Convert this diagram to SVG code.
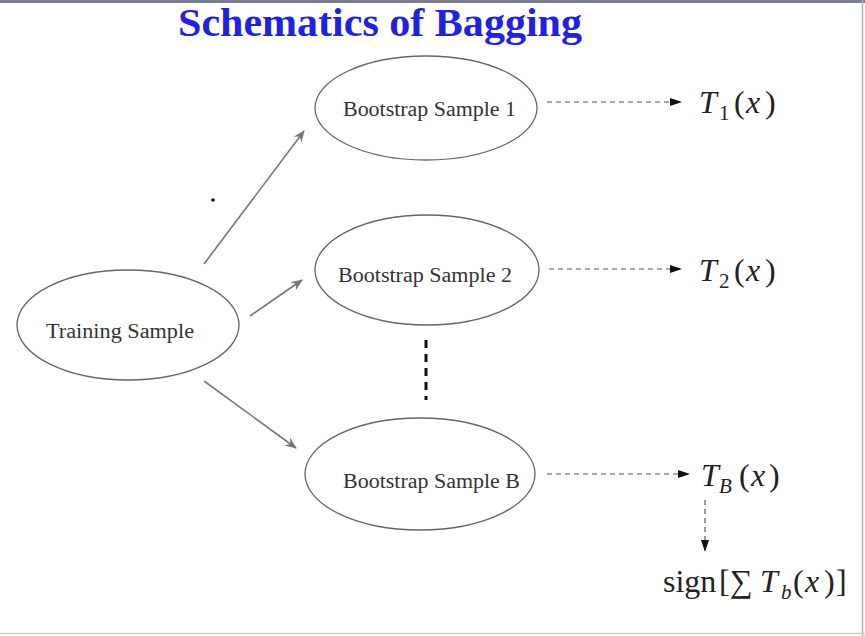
<svg xmlns="http://www.w3.org/2000/svg" width="865" height="636" viewBox="0 0 865 636">
<style>
.node ellipse{fill:#fff;stroke:#666;stroke-width:1.3}
.lbl{font-family:"Liberation Serif",serif;font-size:20px;fill:#333}
.math{font-family:"Liberation Serif",serif;font-size:32px;fill:#222}
.sub{font-size:21px}
.it{font-style:italic}
.solid{stroke:#777;stroke-width:1.6;fill:none}
.dash{stroke:#555;stroke-width:1.2;stroke-dasharray:5 4;fill:none}
</style>
<defs>
<marker id="open" viewBox="0 0 12 10" refX="11" refY="5" markerWidth="12" markerHeight="10" markerUnits="userSpaceOnUse" orient="auto">
<path d="M0,0 L12,5 L0,10 L4,5 Z" fill="#777"/>
</marker>
<marker id="fill" viewBox="0 0 12 8" refX="12" refY="4" markerWidth="12" markerHeight="8" markerUnits="userSpaceOnUse" orient="auto">
<path d="M0,0 L12,4 L0,8 Z" fill="#111"/>
</marker>
</defs>
<rect x="0" y="0" width="865" height="636" fill="#fff"/>
<rect x="0" y="0" width="865" height="3" fill="#7a7f8c"/>
<line x1="862.5" y1="0" x2="862.5" y2="636" stroke="#a9b0c2" stroke-width="1.5"/>
<line x1="0" y1="633.5" x2="865" y2="633.5" stroke="#c9ccd6" stroke-width="1.5"/>
<text x="178" y="36" font-family="Liberation Serif,serif" font-weight="bold" font-size="39" fill="#2121e0" textLength="404" lengthAdjust="spacingAndGlyphs">Schematics of Bagging</text>
<g id="connectors">
<line class="solid" x1="204" y1="264" x2="304" y2="131" marker-end="url(#open)"/>
<line class="solid" x1="250" y1="316" x2="302" y2="280" marker-end="url(#open)"/>
<line class="solid" x1="204" y1="381" x2="296" y2="448" marker-end="url(#open)"/>
<line class="dash" x1="547" y1="102" x2="682" y2="102" marker-end="url(#fill)"/>
<line class="dash" x1="549" y1="269" x2="682" y2="269" marker-end="url(#fill)"/>
<line class="dash" x1="547" y1="474" x2="690" y2="474" marker-end="url(#fill)"/>
<line class="dash" x1="705" y1="500" x2="705" y2="552" marker-end="url(#fill)"/>
<line x1="426" y1="340" x2="426" y2="400" stroke="#111" stroke-width="3" stroke-dasharray="8 6"/>
<circle cx="213" cy="200" r="1.8" fill="#111"/>
</g>
<g id="training" class="node"><ellipse cx="128" cy="325" rx="111" ry="55"/><text class="lbl" x="46" y="338" textLength="148" lengthAdjust="spacingAndGlyphs">Training Sample</text></g>
<g id="bs1" class="node"><ellipse cx="426" cy="108" rx="111" ry="52"/><text class="lbl" x="343" y="116" textLength="173" lengthAdjust="spacingAndGlyphs">Bootstrap Sample 1</text></g>
<g id="bs2" class="node"><ellipse cx="427" cy="270" rx="112" ry="55"/><text class="lbl" x="338" y="282" textLength="174" lengthAdjust="spacingAndGlyphs">Bootstrap Sample 2</text></g>
<g id="bsB" class="node"><ellipse cx="420" cy="474" rx="115" ry="56"/><text class="lbl" x="343" y="488" textLength="177" lengthAdjust="spacingAndGlyphs">Bootstrap Sample B</text></g>
<g id="t1"><text class="math" y="113"><tspan class="it" x="699">T</tspan><tspan class="sub" x="719" y="120">1</tspan><tspan x="734" y="113">(</tspan><tspan class="it" x="746">x</tspan><tspan x="765">)</tspan></text></g>
<g id="t2"><text class="math" y="281"><tspan class="it" x="699">T</tspan><tspan class="sub" x="719" y="288">2</tspan><tspan x="734" y="281">(</tspan><tspan class="it" x="746">x</tspan><tspan x="765">)</tspan></text></g>
<g id="tB"><text class="math" y="486"><tspan class="it" x="701">T</tspan><tspan class="sub it" x="719" y="493">B</tspan><tspan x="739" y="486">(</tspan><tspan class="it" x="751">x</tspan><tspan x="769">)</tspan></text></g>
<g id="sign"><text class="math" y="592"><tspan x="663">sign</tspan><tspan x="719">[</tspan><tspan x="730">∑</tspan><tspan class="it" x="760">T</tspan><tspan class="sub it" x="781" y="599">b</tspan><tspan x="793" y="592">(</tspan><tspan class="it" x="805">x</tspan><tspan x="824">)</tspan><tspan x="836">]</tspan></text></g>
</svg>
